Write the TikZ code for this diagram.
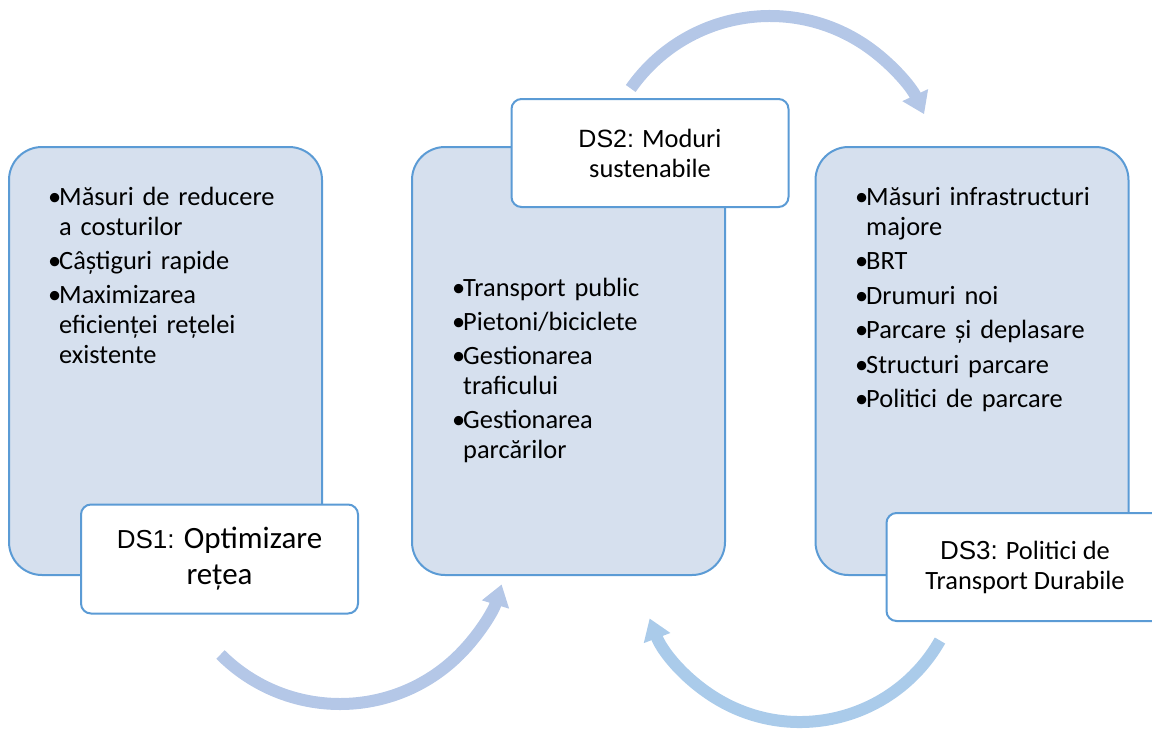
\documentclass[tikz,border=0pt]{standalone}
\usepackage{fontspec}
\setmainfont{Carlito}
\newfontfamily\arialf{Liberation Sans}
\usetikzlibrary{arrows.meta,calc}
\definecolor{boxfill}{RGB}{214,224,238}
\definecolor{boxline}{RGB}{91,155,213}
\definecolor{arrA}{RGB}{180,199,231}
\definecolor{arrB}{RGB}{170,203,234}
\newcommand\bitem[1]{\hangindent=11pt\hangafter=1\noindent\makebox[11pt][l]{•}#1\par}
\begin{document}
\begin{tikzpicture}[x=1pt,y=1pt,
  mainbox/.style={draw=boxline,line width=2pt,fill=boxfill,rounded corners=33pt,minimum width=313pt,minimum height=428pt,inner sep=0pt},
  labelbox/.style={draw=boxline,line width=2pt,fill=white,rounded corners=10pt,minimum width=277pt,minimum height=109pt,inner sep=0pt,align=center},
  bullets/.style={anchor=base west,text width=290pt,inner sep=0pt,align=left,font=\fontsize{26.4}{30}\selectfont},
  cycarrow/.style={line width=12pt,-{Triangle[width=27pt,length=21pt]}}]
\useasboundingbox (0,0) rectangle (1152,-729);
\clip (0,0) rectangle (1152,-729);
% cycle arrows
\coordinate (c1) at (340,-535);
\coordinate (c2) at (770,-186);
\coordinate (c3) at (800,-561);
\draw[cycarrow,arrA] ($(c1)+(225:169)$) arc[start angle=225,end angle=343,radius=169];
\draw[cycarrow,arrA] ($(c2)+(145:170)$) arc[start angle=145,end angle=25,radius=170];
\draw[cycarrow,arrB] ($(c3)+(-29.6:161)$) arc[start angle=-29.6,end angle=-159.1,radius=161];
% main boxes
\node[mainbox] (b1) at (165.5,-361) {};
\node[mainbox] (b2) at (568.5,-361) {};
\node[mainbox] (b3) at (972,-361) {};
% bullet texts
\node[bullets] (t1) at (48,-205) {\setlength\parskip{4pt}%
  \bitem{Măsuri de reducere\newline a costurilor}%
  \bitem{Câștiguri rapide}%
  \bitem{Maximizarea\newline eficienței rețelei\newline existente}};
\node[bullets] (t2) at (452,-296) {\setlength\parskip{4pt}%
  \bitem{Transport public}%
  \bitem{Pietoni/biciclete}%
  \bitem{Gestionarea\newline traficului}%
  \bitem{Gestionarea\newline parcărilor}};
\node[bullets] (t3) at (855,-205) {\setlength\parskip{4.5pt}%
  \bitem{Măsuri infrastructuri\newline majore}%
  \bitem{BRT}%
  \bitem{Drumuri noi}%
  \bitem{Parcare și deplasare}%
  \bitem{Structuri parcare}%
  \bitem{Politici de parcare}};
% labels
\node[labelbox,font=\fontsize{31}{36}\selectfont] (l1) at (219.5,-559)
  {{\arialf\fontsize{26}{36}\selectfont DS1:} Optimizare\\rețea};
\node[labelbox,minimum height=108pt,font=\fontsize{26.4}{30}\selectfont] (l2) at (650,-153)
  {{\arialf\fontsize{25}{30}\selectfont DS2:} Moduri\\sustenabile};
\node[labelbox,minimum height=108pt,font=\fontsize{26.4}{30}\selectfont] (l3) at (1025,-567)
  {{\arialf\fontsize{26}{30}\selectfont DS3:} Politici de\\Transport Durabile};
\end{tikzpicture}
\end{document}
